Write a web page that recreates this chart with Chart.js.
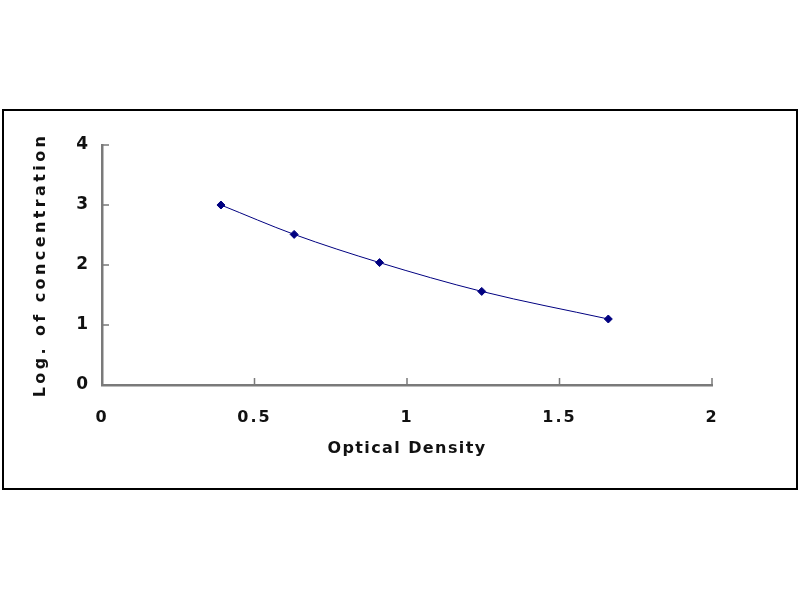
<!DOCTYPE html>
<html>
<head>
<meta charset="utf-8">
<title>Standard curve</title>
<script src="https://cdn.jsdelivr.net/npm/chart.js@4.4.1/dist/chart.umd.min.js"></script>
<style>
  html, body { margin: 0; padding: 0; background: #fff; }
  #frame {
    position: absolute;
    left: 2px; top: 109px;
    width: 792px; height: 377px;
    border: 2px solid #000;
  }
  #frame canvas { display: block; }
</style>
</head>
<body>
<div id="frame"><canvas id="curve" width="792" height="377"></canvas></div>
<script>
'use strict';

// ---- Data ----
var opticalDensity = [0.39, 0.63, 0.91, 1.245, 1.66];
var logConcentration = [3.0, 2.51, 2.04, 1.56, 1.1];
var xTickValues = [0.5, 1, 1.5, 2];
var yTickValues = [1, 2, 3, 4];

var AXIS_GREY = '#7a7a7a';
var INK = '#000080';

// letter spacing per piece of text (the original type is spread out)
function spaced(fn, spacing) {
  return function() {
    var ctx = this.ctx;
    var prev = ctx.letterSpacing;
    ctx.letterSpacing = spacing;
    fn.apply(this, arguments);
    ctx.letterSpacing = prev;
  };
}

function patchScale(titleSpacing, labelSpacing) {
  return function(scale) {
    if (scale._spacedTitle) return;
    scale.drawTitle = spaced(scale.drawTitle, titleSpacing);
    scale.drawLabels = spaced(scale.drawLabels, labelSpacing);
    scale._spacedTitle = true;
  };
}

// short inward tick marks, like the original
var innerTicks = {
  id: 'innerTicks',
  afterDraw: function(chart) {
    var ctx = chart.ctx;
    var xs = chart.scales.x, ys = chart.scales.y;
    ctx.save();
    ctx.strokeStyle = AXIS_GREY;
    ctx.lineWidth = 1.5;
    ctx.beginPath();
    xTickValues.forEach(function(v) {
      var px = xs.getPixelForValue(v);
      ctx.moveTo(px, ys.bottom);
      ctx.lineTo(px, ys.bottom - 7);
    });
    yTickValues.forEach(function(v) {
      var py = ys.getPixelForValue(v);
      ctx.moveTo(xs.left, py);
      ctx.lineTo(xs.left + 7, py);
    });
    ctx.stroke();
    ctx.restore();
  }
};

var points = opticalDensity.map(function(od, i) {
  return { x: od, y: logConcentration[i] };
});

var FAMILY = '"DejaVu Sans", sans-serif';
var titleFont = { family: FAMILY, size: 16, weight: 'bold' };

new Chart(document.getElementById('curve'), {
  type: 'scatter',
  data: {
    datasets: [{
      data: points,
      showLine: true,
      borderColor: INK,
      borderWidth: 1,
      cubicInterpolationMode: 'monotone',
      pointStyle: 'rectRot',
      pointRadius: 4,
      pointBackgroundColor: INK,
      pointBorderColor: INK,
      pointBorderWidth: 1,
    }],
  },
  options: {
    responsive: false,
    animation: false,
    events: [],
    layout: { padding: { left: 0, right: 84, top: 34, bottom: 0 } },
    plugins: {
      legend: { display: false },
      tooltip: { enabled: false },
    },
    scales: {
      x: {
        type: 'linear',
        min: 0,
        max: 2,
        afterFit: function(scale) { scale.height = 103; },
        afterUpdate: patchScale('1.4px', '2px'),
        border: { color: AXIS_GREY, width: 2.5 },
        grid: { display: false, drawTicks: false },
        ticks: {
          stepSize: 0.5,
          padding: 23,
          color: '#111',
          font: { family: FAMILY, size: 16, weight: 'bold' },
          maxRotation: 0,
          callback: function(v) { return String(v); },
        },
        title: {
          display: true,
          text: 'Optical Density',
          color: '#111',
          font: titleFont,
          padding: { top: 0, bottom: 30 },
        },
      },
      y: {
        type: 'linear',
        min: 0,
        max: 4,
        afterFit: function(scale) { scale.width = 98; },
        afterUpdate: patchScale('3.4px', '0px'),
        border: { color: AXIS_GREY, width: 2.5 },
        grid: { display: false, drawTicks: false },
        ticks: { stepSize: 1, padding: 14, color: '#111', font: { family: FAMILY, size: 17, weight: 'bold' } },
        title: {
          display: true,
          text: 'Log. of concentration',
          color: '#111',
          font: titleFont,
          padding: { top: 27, bottom: 0 },
        },
      },
    },
  },
  plugins: [innerTicks],
});
</script>
</body>
</html>
